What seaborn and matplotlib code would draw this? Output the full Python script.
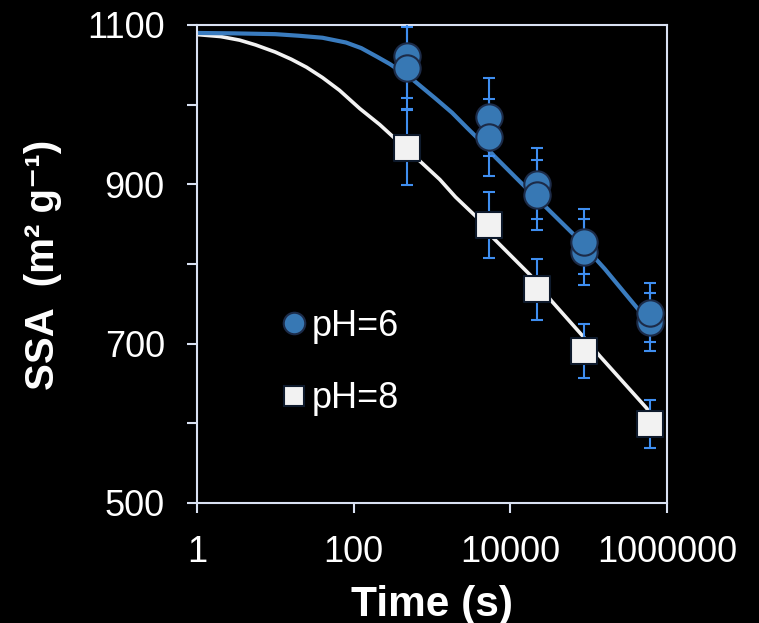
import matplotlib
matplotlib.use("Agg")
import matplotlib.pyplot as plt
import seaborn as sns
import pandas as pd
from matplotlib.lines import Line2D
from matplotlib.ticker import FixedLocator, FuncFormatter, NullLocator

# ---------------- data ----------------
time_s = [480, 5400, 21600, 86400, 604800]

ssa_ph6_a = [1061, 984, 901, 815, 727]
err_ph6_a = [53, 49, 45, 41, 36]
ssa_ph6_b = [1046, 959, 887, 828, 739]
err_ph6_b = [52, 48, 44, 41, 37]

ssa_ph8 = [946, 849, 768, 691, 599]
err_ph8 = [47, 42, 38, 34, 30]

fit_time_ph6 = [1, 3, 10, 20, 40, 80, 125, 200, 290, 575, 1100, 1800, 2800,
                4000, 6300, 14000, 28000, 63000, 160000, 430000, 604800]
fit_ssa_ph6 = [1090, 1089.5, 1088.5, 1086.5, 1084, 1078, 1071, 1060, 1051, 1031,
               1008, 990, 971, 956, 935, 901, 872, 838, 794, 743, 728]

fit_time_ph8 = [1, 2, 3.5, 5.6, 10, 16, 25, 40, 66, 120, 215, 300, 760, 1260,
                2000, 3700, 6000, 18000, 34000, 85000, 140000, 550000, 604800]
fit_ssa_ph8 = [1088, 1085.5, 1081, 1075, 1066, 1057, 1047, 1034, 1018, 995, 975,
               962, 926, 906, 884, 859, 833, 786, 753, 709, 684, 619, 612]

x_ticks = [1, 100, 10000, 1000000]
y_major = [500, 700, 900, 1100]
y_minor = [600, 800, 1000]
legend_labels = ["pH=6", "pH=8"]

# ---------------- styling ----------------
sns.set_theme(style="white")
plt.rcParams["font.family"] = ["Liberation Sans", "DejaVu Sans"]

BG = "black"
SPINE = "#D9E1F2"
BLUE_FACE = "#3778B4"
BLUE_LINE = "#3A7CBF"
EDGE = "#1C2B48"
ERR = "#3F8EF0"
WHITE = "#F2F2F2"

fig = plt.figure(figsize=(7.59, 6.23), dpi=100, facecolor=BG)
ax = fig.add_axes([197 / 759, 120 / 623, 470 / 759, 478 / 623])
ax.set_facecolor(BG)

fit6 = pd.DataFrame({"t": fit_time_ph6, "ssa": fit_ssa_ph6})
fit8 = pd.DataFrame({"t": fit_time_ph8, "ssa": fit_ssa_ph8})
sns.lineplot(data=fit8, x="t", y="ssa", ax=ax, color=WHITE, lw=2.6,
             sort=False, estimator=None, zorder=2)
sns.lineplot(data=fit6, x="t", y="ssa", ax=ax, color=BLUE_LINE, lw=3.0,
             sort=False, estimator=None, zorder=2)

for vals, errs in [(ssa_ph8, err_ph8), (ssa_ph6_a, err_ph6_a), (ssa_ph6_b, err_ph6_b)]:
    ax.errorbar(time_s, vals, yerr=errs, fmt="none", ecolor=ERR,
                elinewidth=1.5, capsize=4.6, capthick=1.5, zorder=3)

sns.scatterplot(x=time_s, y=ssa_ph8, ax=ax, marker="s", s=330, color=WHITE,
                edgecolor="#0E1A2C", linewidth=1.5, zorder=4)
sns.scatterplot(x=time_s, y=ssa_ph6_a, ax=ax, marker="o", s=360, color=BLUE_FACE,
                edgecolor=EDGE, linewidth=1.5, zorder=5)
sns.scatterplot(x=time_s, y=ssa_ph6_b, ax=ax, marker="o", s=360, color=BLUE_FACE,
                edgecolor=EDGE, linewidth=1.5, zorder=6)

ax.set_xscale("log")
ax.set_xlim(1, 1000000)
ax.set_ylim(500, 1100)
ax.xaxis.set_major_locator(FixedLocator(x_ticks))
ax.xaxis.set_minor_locator(NullLocator())
ax.xaxis.set_major_formatter(FuncFormatter(lambda v, p: f"{int(round(v))}"))
ax.yaxis.set_major_locator(FixedLocator(y_major))
ax.yaxis.set_minor_locator(FixedLocator(y_minor))
ax.set_xlabel("")
ax.set_ylabel("")

for sp in ax.spines.values():
    sp.set_visible(True)
    sp.set_color(SPINE)
    sp.set_linewidth(1.5)

ax.tick_params(which="both", bottom=True, left=True, top=False, right=False,
               direction="out", length=7.2, width=1.5, color=SPINE,
               labelcolor="white", labelsize=26)
ax.tick_params(axis="y", which="both", pad=16)
ax.tick_params(axis="x", which="both", pad=15.5)

fig.text(43 / 759, 1 - 265 / 623, "SSA  (m² g⁻¹)",
         rotation=90, ha="center", va="center", fontsize=29,
         fontweight="bold", color="white")
fig.text(432 / 759, 7 / 623, "Time (s)", ha="center", va="baseline",
         fontsize=30.5, fontweight="bold", color="white")

handles = [
    Line2D([], [], ls="none", marker="o", markersize=15.5, markerfacecolor=BLUE_FACE,
           markeredgecolor=EDGE, markeredgewidth=1.5),
    Line2D([], [], ls="none", marker="s", markersize=14.5, markerfacecolor=WHITE,
           markeredgecolor="#0E1A2C", markeredgewidth=1.5),
]
leg = ax.legend(handles, legend_labels, loc="center left", bbox_to_anchor=(0.175, 0.294),
                frameon=False, fontsize=26, handlelength=0.8, handletextpad=0.1,
                labelspacing=1.04, borderpad=0, borderaxespad=0)
for t in leg.get_texts():
    t.set_color("white")

fig.savefig("out.png", dpi=100, facecolor=BG)
